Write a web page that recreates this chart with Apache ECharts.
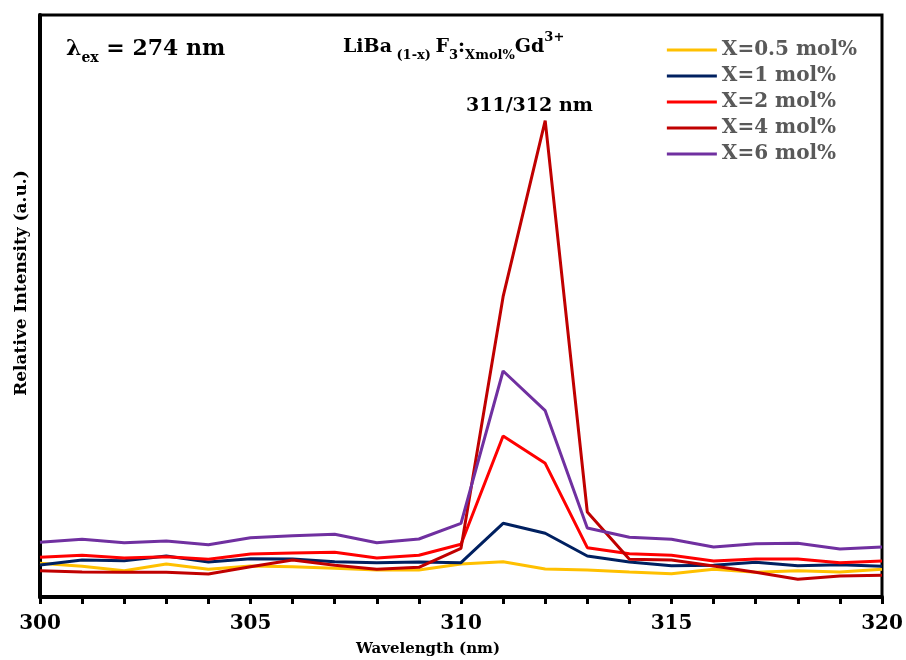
<!DOCTYPE html>
<html lang="en">
<head>
  <meta charset="UTF-8">
  <title>LiBaF3:Gd emission</title>
  <style>
    html,body{margin:0;padding:0;background:#fff;}
    #main{width:906px;height:660px;}
  </style>
</head>
<body>
  <div id="main"></div>
  <script src="https://cdn.jsdelivr.net/npm/echarts@6/dist/echarts.min.js"></script>
  <script>
    // wavelength (nm)
    const wavelengths=[300,301,302,303,304,305,306,307,308,309,310,311,312,313,314,315,316,317,318,319,320];
    // relative intensity (a.u.)
    const x05=[33.7,30.7,26.3,33,27.7,31,30.3,28.7,27,27,33,35.3,28,27,25,23.3,27.7,24.7,26.3,25,27.7];
    const x1=[32,37,36.3,41,35,38.3,38,35.3,34.3,35,34.3,73.7,63.7,41,35,31.3,31.7,34.7,31.3,32.3,30.7];
    const x2=[39.7,41.7,39,40.3,37.7,43,44,44.7,39,41.7,52.7,161,133.7,49.3,43.3,41.7,36,38,38,34.3,36];
    const x4=[26.3,25,24.7,24.7,23,30.3,37,31.7,27.7,29.7,48.7,300.3,476.3,85,37.7,37,31,24.7,17.7,21,21.7];
    const x6=[54.7,57.7,54.3,56,52.3,59.3,61.3,62.7,54.3,58,73.7,226,186.3,69,59.7,57.7,50,53.3,53.7,48,50];

    const names=['X=0.5 mol%','X=1 mol%','X=2 mol%','X=4 mol%','X=6 mol%'];
    const colors=['#FFC000','#002060','#FF0000','#C00000','#7030A0'];
    const values=[x05,x1,x2,x4,x6];

    const serif='"DejaVu Serif", serif';

    const chart=echarts.init(document.querySelector('#main'));
    const option={
      animation:false,
      grid:{left:40,right:24,top:15,bottom:63,show:true,borderColor:'#000',borderWidth:3,backgroundColor:'transparent'},
      title:{
        left:338,top:26,
        text:'{m|LiBa}{s| (1-x) }{m|F}{s|3}{m|:}{s|Xmol%}{m|Gd}{p|3+}',
        textStyle:{
          rich:{
            m:{fontFamily:serif,fontWeight:'bold',fontSize:19,color:'#000',verticalAlign:'bottom',lineHeight:26},
            s:{fontFamily:serif,fontWeight:'bold',fontSize:13,color:'#000',verticalAlign:'bottom',padding:[0,0,-5,0],lineHeight:26},
            p:{fontFamily:serif,fontWeight:'bold',fontSize:13,color:'#000',verticalAlign:'top',padding:[0,0,9,0],lineHeight:26}
          }
        }
      },
      legend:{
        right:44,top:35,orient:'vertical',itemGap:6,itemWidth:50,itemHeight:3,
        icon:'rect',
        data:names,
        textStyle:{fontFamily:serif,fontWeight:'bold',fontSize:20,lineHeight:20,color:'#595959'}
      },
      graphic:[
        {type:'text',left:66,top:38,style:{
          text:'{a|λ}{b|ex}{a| = 274 nm}',
          rich:{
            a:{fontFamily:serif,fontWeight:'bold',fontSize:22,fill:'#000',verticalAlign:'bottom',lineHeight:28},
            b:{fontFamily:serif,fontWeight:'bold',fontSize:14,fill:'#000',verticalAlign:'bottom',padding:[0,0,-5,0],lineHeight:28}
          }
        }},
        {type:'text',left:466,top:97,style:{text:'311/312 nm',fontFamily:serif,fontWeight:'bold',fontSize:19,fill:'#000'}},
        {type:'text',x:428,y:649,style:{text:'Wavelength (nm)',fontFamily:serif,fontWeight:'bold',fontSize:15,fill:'#000',align:'center',verticalAlign:'middle'}},
        {type:'text',x:22,y:283,rotation:Math.PI/2,style:{text:'Relative Intensity (a.u.)',fontFamily:serif,fontWeight:'bold',fontSize:17,fill:'#000',align:'center',verticalAlign:'middle'}}
      ],
      xAxis:{
        type:'value',min:300,max:320,interval:5,
        axisLine:{lineStyle:{color:'#000',width:4}},
        axisTick:{inside:false,length:7,lineStyle:{color:'#000',width:3}},
        minorTick:{show:true,splitNumber:5,length:7,lineStyle:{color:'#000',width:3}},
        axisLabel:{fontFamily:serif,fontWeight:'bold',fontSize:20,color:'#000',margin:17},
        splitLine:{show:false}
      },
      yAxis:{
        type:'value',min:0,max:582,
        axisLine:{show:true,lineStyle:{color:'#000',width:4}},
        axisTick:{show:false},
        axisLabel:{show:false},
        splitLine:{show:false}
      },
      series:names.map((n,i)=>({
        name:n,type:'line',
        data:wavelengths.map((w,j)=>[w,values[i][j]]),
        showSymbol:false,
        lineStyle:{color:colors[i],width:3},
        itemStyle:{color:colors[i]}
      }))
    };
    chart.setOption(option);
  </script>
</body>
</html>
